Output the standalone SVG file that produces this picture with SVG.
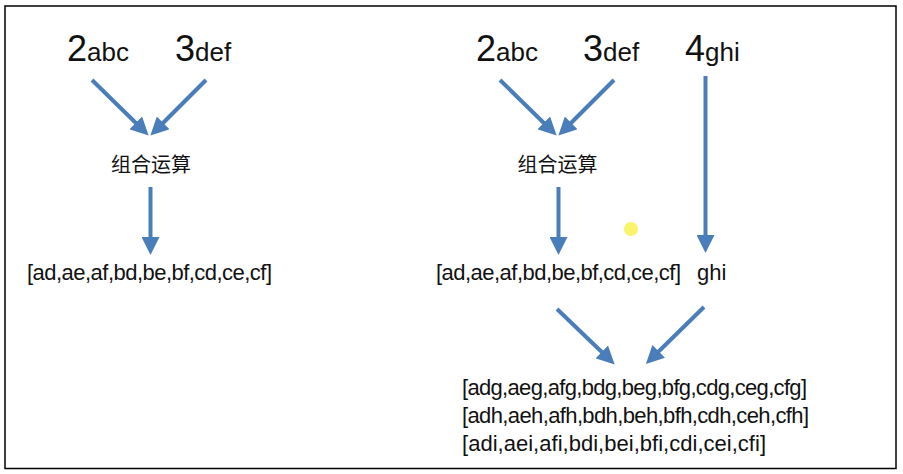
<svg xmlns="http://www.w3.org/2000/svg" width="903" height="474" viewBox="0 0 903 474">
<style>
text{font-family:"Liberation Sans","Noto Sans CJK SC",Arial,sans-serif;fill:#111}
.big{font-size:36px}
.sm{font-size:26px}
.cjk{font-size:20px;font-family:"Noto Sans CJK SC","Liberation Sans",sans-serif}
.lst{font-size:22px}
.g{font-size:22px}
.conn line{stroke:#4a7ebb;stroke-width:4;fill:none;marker-end:url(#ah)}
</style>
<defs>
<marker id="ah" markerUnits="userSpaceOnUse" viewBox="0 0 18 18" refX="8" refY="9" markerWidth="18" markerHeight="18" orient="auto">
<path d="M0,0 L18,9 L0,18 z" fill="#4a7ebb"/>
</marker>
</defs>
<rect x="5" y="6" width="891" height="462.5" fill="#fff" stroke="#000" stroke-width="1.5"/>
<g id="l-2abc"><text x="67" y="61"><tspan class="big">2</tspan><tspan class="sm">abc</tspan></text></g>
<g id="l-3def"><text x="175" y="61"><tspan class="big">3</tspan><tspan class="sm">def</tspan></text></g>
<g id="l-op"><text class="cjk" x="151" y="172" text-anchor="middle">组合运算</text></g>
<g id="l-res"><text class="lst" x="27" y="280" textLength="245" lengthAdjust="spacing">[ad,ae,af,bd,be,bf,cd,ce,cf]</text></g>
<g id="r-2abc"><text x="476" y="61"><tspan class="big">2</tspan><tspan class="sm">abc</tspan></text></g>
<g id="r-3def"><text x="583" y="61"><tspan class="big">3</tspan><tspan class="sm">def</tspan></text></g>
<g id="r-4ghi"><text x="685" y="61"><tspan class="big">4</tspan><tspan class="sm">ghi</tspan></text></g>
<g id="r-op"><text class="cjk" x="557.5" y="172" text-anchor="middle">组合运算</text></g>
<g id="r-res"><text class="lst" x="436" y="280" textLength="245" lengthAdjust="spacing">[ad,ae,af,bd,be,bf,cd,ce,cf]</text></g>
<g id="r-ghi"><text class="g" x="697" y="280">ghi</text></g>
<g id="final">
<text class="lst" x="462" y="395" textLength="345" lengthAdjust="spacing">[adg,aeg,afg,bdg,beg,bfg,cdg,ceg,cfg]</text>
<text class="lst" x="462" y="423" textLength="347" lengthAdjust="spacing">[adh,aeh,afh,bdh,beh,bfh,cdh,ceh,cfh]</text>
<text class="lst" x="462" y="451" textLength="304" lengthAdjust="spacing">[adi,aei,afi,bdi,bei,bfi,cdi,cei,cfi]</text>
</g>
<circle id="dot" cx="631" cy="229" r="7" fill="#fbf36a"/>
<g class="conn" id="connectors">
<line x1="92" y1="80" x2="141.5" y2="128.5"/>
<line x1="206" y1="80" x2="157.5" y2="128.5"/>
<line x1="150.5" y1="187" x2="150.5" y2="245"/>
<line x1="500" y1="80" x2="549.5" y2="128.5"/>
<line x1="614" y1="80" x2="565.5" y2="128.5"/>
<line x1="558.5" y1="187" x2="558.5" y2="245"/>
<line x1="705.5" y1="76" x2="705.5" y2="243"/>
<line x1="557" y1="309" x2="607.5" y2="357.5"/>
<line x1="704" y1="307" x2="653" y2="357"/>
</g>
</svg>
